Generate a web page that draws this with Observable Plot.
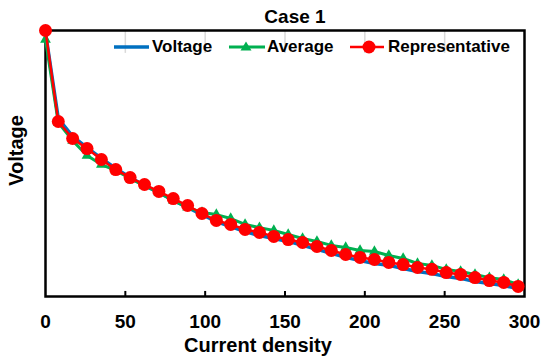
<!DOCTYPE html>
<html>
<head>
<meta charset="utf-8">
<script src="https://cdn.jsdelivr.net/npm/d3@7"></script>
<script src="https://cdn.jsdelivr.net/npm/@observablehq/plot@0.6"></script>
<style>
  html, body { margin: 0; padding: 0; background: white; }
  #wrap { position: relative; width: 543px; height: 357px; font-family: "Liberation Sans", Arial, sans-serif; font-weight: bold; }
  .lg { position: absolute; font-size: 17px; line-height: 20px; top: 37px; color: black; white-space: nowrap; }
  .sw { position: absolute; top: 40px; }
</style>
</head>
<body>
<div id="wrap"></div>
<script>
const currentDensity = [0, 8, 17, 26, 35, 44, 53, 62, 71, 80, 89, 98, 107, 116, 125, 134, 143, 152, 161, 170, 179, 188, 197, 206, 215, 224, 233, 242, 251, 260, 269, 278, 287, 296];
const voltage = [0.992, 0.669, 0.602, 0.560, 0.519, 0.481, 0.447, 0.417, 0.391, 0.361, 0.335, 0.308, 0.282, 0.263, 0.244, 0.229, 0.218, 0.207, 0.192, 0.177, 0.162, 0.147, 0.135, 0.124, 0.117, 0.105, 0.094, 0.086, 0.075, 0.068, 0.056, 0.049, 0.041, 0.030];
const average = [0.966, 0.654, 0.586, 0.530, 0.496, 0.474, 0.444, 0.417, 0.391, 0.361, 0.335, 0.316, 0.308, 0.293, 0.271, 0.259, 0.248, 0.233, 0.218, 0.207, 0.192, 0.184, 0.173, 0.169, 0.154, 0.143, 0.124, 0.117, 0.102, 0.094, 0.083, 0.071, 0.064, 0.045];
const representative = [1.000, 0.658, 0.594, 0.556, 0.515, 0.477, 0.447, 0.421, 0.395, 0.368, 0.342, 0.312, 0.286, 0.271, 0.252, 0.241, 0.226, 0.214, 0.203, 0.188, 0.173, 0.158, 0.147, 0.139, 0.128, 0.120, 0.109, 0.102, 0.090, 0.083, 0.071, 0.060, 0.053, 0.038];
const xTicks = [0, 50, 100, 150, 200, 250, 300];
const innerTicks = [50, 100, 150, 200, 250];
const seriesNames = ["Voltage", "Average", "Representative"];
const seriesColors = ["#0070C0", "#00B050", "#FF0000"];
const title = "Case 1";
const xLabel = "Current density";
const yLabel = "Voltage";

const rows = (vals) => currentDensity.map((x, i) => ({x, y: vals[i]}));
const vRows = rows(voltage), aRows = rows(average), rRows = rows(representative);

const chart = Plot.plot({
  width: 543, height: 357,
  marginTop: 30, marginBottom: 61, marginLeft: 45, marginRight: 19,
  x: {domain: [0, 300], axis: null},
  y: {domain: [0, 1], axis: null},
  style: {fontFamily: "'Liberation Sans', Arial, sans-serif", fontWeight: "bold", color: "black", background: "white", overflow: "visible"},
  marks: [
    Plot.ruleX(innerTicks, {y1: 1, y2: 0.914, stroke: "#d9d9d9", strokeWidth: 1.5}),
    Plot.frame({stroke: "black", strokeWidth: 2.5}),
    Plot.ruleX(innerTicks, {y1: 0, y2: 0.019, stroke: "black", strokeWidth: 2}),
    Plot.axisX(xTicks, {tickSize: 0, tickPadding: 18, fontSize: 19, fontWeight: "bold", label: null}),
    Plot.line(vRows, {x: "x", y: "y", stroke: seriesColors[0], strokeWidth: 3.5}),
    Plot.line(aRows, {x: "x", y: "y", stroke: seriesColors[1], strokeWidth: 3}),
    Plot.dot(aRows, {x: "x", y: "y", symbol: "triangle", r: 4, fill: seriesColors[1]}),
    Plot.line(rRows, {x: "x", y: "y", stroke: seriesColors[2], strokeWidth: 2.5}),
    Plot.dot(rRows, {x: "x", y: "y", r: 6.5, fill: seriesColors[2]}),
    Plot.text([title], {frameAnchor: "top", lineAnchor: "middle", textAnchor: "middle", dx: 10, dy: -14, fontSize: 19, fontWeight: "bold"}),
    Plot.text([xLabel], {frameAnchor: "bottom", lineAnchor: "middle", textAnchor: "middle", dx: -27, dy: 49, fontSize: 20, fontWeight: "bold"}),
    Plot.text([yLabel], {frameAnchor: "left", lineAnchor: "middle", textAnchor: "middle", rotate: -90, dx: -29, dy: -13, fontSize: 20, fontWeight: "bold"})
  ]
});
const wrap = document.getElementById("wrap");
wrap.appendChild(chart);

// legend overlay
const legendItems = [
  {line: [114, 149], text: 152, sym: null},
  {line: [229, 265], text: 267, sym: "tri", c: 246},
  {line: [350, 384], text: 388, sym: "dot", c: 369}
];
legendItems.forEach((it, i) => {
  const w = it.line[1] - it.line[0];
  const svgNS = "http://www.w3.org/2000/svg";
  const s = document.createElementNS(svgNS, "svg");
  s.setAttribute("class", "sw");
  s.setAttribute("width", w + 10);
  s.setAttribute("height", 16);
  s.style.left = (it.line[0] - 5) + "px";
  s.style.top = "39px";
  const ln = document.createElementNS(svgNS, "line");
  ln.setAttribute("x1", 5); ln.setAttribute("x2", 5 + w);
  ln.setAttribute("y1", 8); ln.setAttribute("y2", 8);
  ln.setAttribute("stroke", seriesColors[i]);
  ln.setAttribute("stroke-width", i === 0 ? 3.5 : (i === 1 ? 3 : 2.5));
  s.appendChild(ln);
  const cx = it.c - it.line[0] + 5;
  if (it.sym === "tri") {
    const p = document.createElementNS(svgNS, "path");
    p.setAttribute("d", `M${cx},${8 - 5.5}L${cx + 5.5},${8 + 3.5}L${cx - 5.5},${8 + 3.5}Z`);
    p.setAttribute("fill", seriesColors[i]);
    s.appendChild(p);
  } else if (it.sym === "dot") {
    const c = document.createElementNS(svgNS, "circle");
    c.setAttribute("cx", cx); c.setAttribute("cy", 8); c.setAttribute("r", 6.5);
    c.setAttribute("fill", seriesColors[i]);
    s.appendChild(c);
  }
  wrap.appendChild(s);
  const t = document.createElement("div");
  t.className = "lg";
  t.style.left = it.text + "px";
  t.textContent = seriesNames[i];
  wrap.appendChild(t);
});
</script>
</body>
</html>
